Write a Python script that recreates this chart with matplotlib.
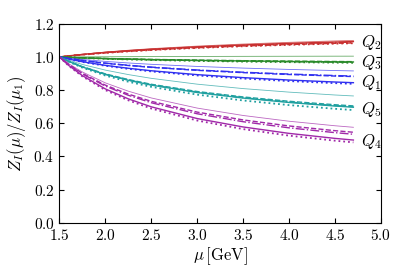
import matplotlib
matplotlib.use('Agg')
import matplotlib.pyplot as plt

plt.rcParams['font.family'] = 'serif'
plt.rcParams['font.serif'] = ['cmr10', 'DejaVu Serif']
plt.rcParams['mathtext.fontset'] = 'cm'
plt.rcParams['axes.formatter.use_mathtext'] = True

mu = [1.5, 1.6, 1.75, 2.0, 2.25, 2.5, 3.0, 3.5, 4.0, 4.5, 4.7]

# each operator: thick solid, dashed, dash-dot, dotted, thin solid
Q2 = [
    [1.0, 1.0066, 1.0154, 1.0277, 1.0379, 1.0468, 1.0612, 1.0727, 1.0822, 1.0902, 1.093],
    [1.0, 1.0061, 1.0141, 1.0254, 1.0347, 1.0429, 1.0560, 1.0665, 1.0752, 1.0825, 1.085],
    [1.0, 1.0064, 1.0149, 1.0269, 1.0367, 1.0453, 1.0593, 1.0704, 1.0796, 1.0874, 1.090],
    [1.0, 1.0059, 1.0138, 1.0248, 1.0339, 1.0419, 1.0547, 1.0649, 1.0734, 1.0805, 1.083],
    [1.0, 1.0071, 1.0165, 1.0297, 1.0407, 1.0502, 1.0657, 1.0781, 1.0884, 1.0970, 1.100],
]
Q3 = [
    [1.0, 0.9977, 0.9948, 0.9907, 0.9873, 0.9844, 0.9798, 0.9762, 0.9733, 0.9708, 0.970],
    [1.0, 0.9979, 0.9951, 0.9913, 0.9882, 0.9855, 0.9812, 0.9778, 0.9751, 0.9728, 0.972],
    [1.0, 0.9976, 0.9944, 0.9900, 0.9865, 0.9834, 0.9785, 0.9747, 0.9715, 0.9689, 0.968],
    [1.0, 0.9974, 0.9939, 0.9891, 0.9852, 0.9818, 0.9765, 0.9723, 0.9689, 0.9660, 0.965],
    [1.0, 1.0004, 1.0009, 1.0015, 1.0021, 1.0026, 1.0033, 1.0039, 1.0044, 1.0049, 1.005],
]
Q1 = [
    [1.0, 0.9876, 0.9715, 0.9495, 0.9319, 0.9170, 0.8936, 0.8756, 0.8610, 0.8491, 0.845],
    [1.0, 0.9907, 0.9787, 0.9621, 0.9488, 0.9374, 0.9195, 0.9057, 0.8944, 0.8851, 0.882],
    [1.0, 0.9910, 0.9792, 0.9631, 0.9501, 0.9391, 0.9216, 0.9081, 0.8971, 0.8881, 0.885],
    [1.0, 0.9870, 0.9701, 0.9471, 0.9287, 0.9131, 0.8887, 0.8699, 0.8547, 0.8422, 0.838],
    [1.0, 0.9935, 0.9850, 0.9734, 0.9640, 0.9559, 0.9431, 0.9331, 0.9250, 0.9183, 0.916],
]
Q5 = [
    [1.0, 0.9736, 0.9399, 0.8949, 0.8598, 0.8305, 0.7858, 0.7522, 0.7256, 0.7042, 0.697],
    [1.0, 0.9744, 0.9417, 0.8981, 0.8639, 0.8354, 0.7918, 0.7590, 0.7329, 0.7120, 0.705],
    [1.0, 0.9739, 0.9406, 0.8961, 0.8613, 0.8324, 0.7880, 0.7547, 0.7284, 0.7071, 0.700],
    [1.0, 0.9718, 0.9359, 0.8881, 0.8509, 0.8200, 0.7729, 0.7377, 0.7098, 0.6875, 0.680],
    [1.0, 0.9803, 0.9550, 0.9209, 0.8939, 0.8713, 0.8361, 0.8094, 0.7881, 0.7708, 0.765],
]
Q4 = [
    [1.0, 0.9497, 0.8875, 0.8075, 0.7475, 0.6994, 0.6286, 0.5779, 0.5392, 0.5090, 0.499],
    [1.0, 0.9561, 0.9012, 0.8302, 0.7763, 0.7325, 0.6675, 0.6204, 0.5840, 0.5555, 0.546],
    [1.0, 0.9545, 0.8978, 0.8245, 0.7691, 0.7241, 0.6576, 0.6096, 0.5726, 0.5436, 0.534],
    [1.0, 0.9477, 0.8831, 0.8004, 0.7387, 0.6891, 0.6167, 0.5650, 0.5256, 0.4951, 0.485],
    [1.0, 0.9599, 0.9096, 0.8439, 0.7938, 0.7529, 0.6918, 0.6472, 0.6125, 0.5852, 0.576],
]

groups = [Q2, Q3, Q1, Q5, Q4]
names = ['$Q_2$', '$Q_3$', '$Q_1$', '$Q_5$', '$Q_4$']
colors = ['#c83030', '#2a8a2a', '#3030f0', '#20a0a0', '#a028a8']
label_y = [1.085, 0.965, 0.845, 0.685, 0.49]

styles = [('-', 1.0, 1.0), ('--', 1.0, 1.0), ('-.', 1.0, 1.0), (':', 1.3, 1.0), ('-', 0.6, 0.7)]

fig = plt.figure(figsize=(4.07, 2.71), dpi=100)
ax = fig.add_axes([0.146, 0.178, 0.790, 0.734])

for g, c in zip(groups, colors):
    for ys, (ls, lw, a) in zip(g, styles):
        ax.plot(mu, ys, ls=ls, lw=lw, color=c, alpha=a)

for n, yl in zip(names, label_y):
    ax.text(4.78, yl, n, fontsize=12, va='center', ha='left')

ax.set_xlim(1.5, 5.0)
ax.set_ylim(0.0, 1.2)
ax.set_xticks([1.5, 2.0, 2.5, 3.0, 3.5, 4.0, 4.5, 5.0])
ax.set_yticks([0.0, 0.2, 0.4, 0.6, 0.8, 1.0, 1.2])
ax.tick_params(direction='in', top=True, right=True, labelsize=11, length=3.5)
ax.set_xlabel(r'$\mu\,[\mathrm{GeV}]$', fontsize=12, labelpad=2)
ax.set_ylabel(r'$Z_I(\mu)/Z_I(\mu_1)$', fontsize=12)

fig.savefig('out.png', dpi=100)
